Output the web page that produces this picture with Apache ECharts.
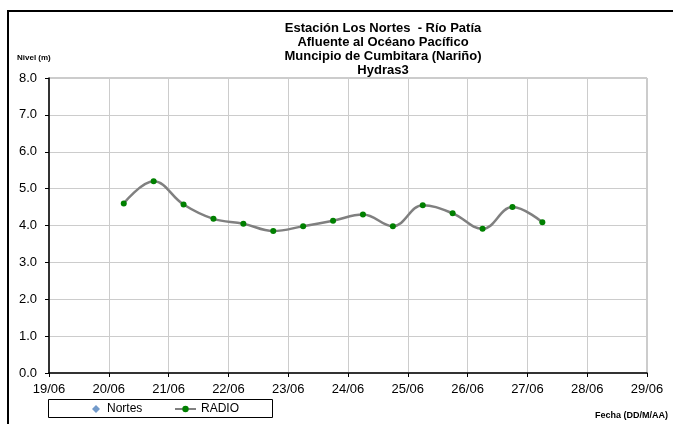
<!DOCTYPE html>
<html>
<head>
<meta charset="utf-8">
<script src="https://cdn.jsdelivr.net/npm/echarts@6/dist/echarts.min.js"></script>
<style>html,body{margin:0;padding:0;background:#fff}#c{width:673px;height:424px}</style>
</head>
<body>
<div id="c"></div>
<script>
// Data
const titleLines = ['Estación Los Nortes  - Río Patía', 'Afluente al Océano Pacífico', 'Muncipio de Cumbitara (Nariño)', 'Hydras3'];
const xTickLabels = ['19/06', '20/06', '21/06', '22/06', '23/06', '24/06', '25/06', '26/06', '27/06', '28/06', '29/06'];
const radioDates = ['20/06 06:00', '20/06 18:00', '21/06 06:00', '21/06 18:00', '22/06 06:00', '22/06 18:00', '23/06 06:00', '23/06 18:00', '24/06 06:00', '24/06 18:00', '25/06 06:00', '25/06 18:00', '26/06 06:00', '26/06 18:00', '27/06 06:00'];
const radioLevels = [4.60, 5.20, 4.57, 4.18, 4.05, 3.85, 3.98, 4.13, 4.30, 3.98, 4.55, 4.33, 3.91, 4.50, 4.09];
const nortesLevels = [];
const yTicks = [0, 1, 2, 3, 4, 5, 6, 7, 8];

// day-of-month (fractional) from "dd/MM hh:mm"
function dayValue(s) {
  const [d, t] = s.split(' ');
  const day = parseInt(d.split('/')[0], 10);
  const [h, m] = t.split(':').map(Number);
  return day + (h + m / 60) / 24;
}
const xMin = parseInt(xTickLabels[0], 10);
const xMax = parseInt(xTickLabels[xTickLabels.length - 1], 10);

const chart = echarts.init(document.getElementById('c'), null, {renderer: 'canvas'});
const FONT = 'Liberation Sans, Arial, sans-serif';

const graphics = [
  {type: 'polyline', silent: true, z: 100, shape: {points: [[8, 424], [8, 11], [673, 11]]}, style: {stroke: '#000', lineWidth: 2, fill: null}},
  {type: 'rect', silent: true, z: 1, shape: {x: 48.5, y: 399.5, width: 224, height: 18}, style: {stroke: '#000', lineWidth: 1, fill: '#fff'}},
  {type: 'text', silent: true, style: {text: 'Nivel (m)', x: 17, y: 58, fontSize: 8, fontWeight: 'bold', fontFamily: FONT, fill: '#000', verticalAlign: 'middle'}},
  {type: 'text', silent: true, style: {text: 'Fecha (DD/M/AA)', x: 668, y: 416, fontSize: 9, fontWeight: 'bold', fontFamily: FONT, fill: '#000', align: 'right', verticalAlign: 'middle'}}
];
titleLines.forEach((t, i) => {
  graphics.push({type: 'text', silent: true, style: {text: t, x: 383, y: 28.7 + i * 14, fontSize: 13, fontWeight: 'bold', fontFamily: FONT, fill: '#000', align: 'center', verticalAlign: 'middle'}});
});

chart.setOption({
  animation: false,
  backgroundColor: '#fff',
  textStyle: {fontFamily: FONT},
  grid: {left: 49, right: 26, top: 78, bottom: 51, show: true, borderColor: '#999', borderWidth: 1, backgroundColor: 'transparent'},
  legend: [
    {data: [{name: 'Nortes', icon: 'diamond'}], left: 92, top: 403, itemWidth: 8, itemHeight: 8, padding: 0, textStyle: {fontSize: 12, color: '#000', fontFamily: FONT, padding: [0, 0, 0, 2]}, z: 5},
    {data: ['RADIO'], left: 174, top: 403, itemWidth: 21, itemHeight: 8, itemGap: 0, padding: 0, textStyle: {fontSize: 12, color: '#000', fontFamily: FONT}, z: 5}
  ],
  xAxis: {
    type: 'value', min: xMin, max: xMax, interval: 1,
    axisLine: {lineStyle: {color: '#000', width: 1.5}},
    axisTick: {show: true, length: 4, lineStyle: {color: '#000'}},
    axisLabel: {fontSize: 13, color: '#000', margin: 10, fontFamily: FONT, formatter: v => xTickLabels[Math.round(v - xMin)] || ''},
    splitLine: {show: true, lineStyle: {color: '#cccccc', width: 1}}
  },
  yAxis: {
    type: 'value', min: yTicks[0], max: yTicks[yTicks.length - 1], interval: 1,
    axisLine: {show: true, lineStyle: {color: '#000', width: 1.5}},
    axisTick: {show: true, length: 4, lineStyle: {color: '#000'}},
    axisLabel: {fontSize: 13, color: '#000', margin: 12, fontFamily: FONT, formatter: v => v.toFixed(1)},
    splitLine: {show: true, lineStyle: {color: '#cccccc', width: 1}}
  },
  series: [
    {name: 'Nortes', type: 'scatter', data: nortesLevels, symbol: 'diamond', itemStyle: {color: '#4F81BD'}},
    {name: 'RADIO', type: 'line', smooth: 0.4, data: radioDates.map((d, i) => [dayValue(d), radioLevels[i]]),
      symbol: 'circle', symbolSize: 6, showSymbol: true,
      lineStyle: {color: '#808080', width: 2.5},
      itemStyle: {color: '#008000', borderWidth: 0}}
  ],
  graphic: graphics
});
</script>
</body>
</html>
